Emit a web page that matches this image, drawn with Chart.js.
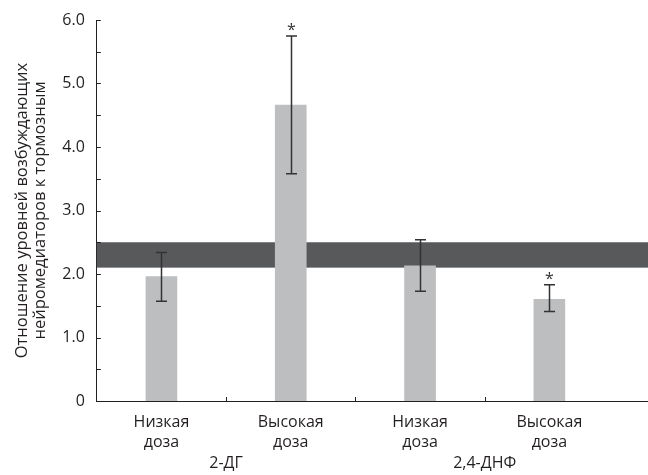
<!DOCTYPE html>
<html>
<head>
<meta charset="utf-8">
<script src="https://cdn.jsdelivr.net/npm/chart.js@4.4.1/dist/chart.umd.min.js"></script>
<style>
  html, body { margin: 0; padding: 0; background: #fff; }
  #wrap { width: 648px; height: 475px; }
</style>
</head>
<body>
<div id="wrap"><canvas id="chart"></canvas></div>
<script>
// doses and treatment groups
const doseLabels = [["Низкая", "доза"], ["Высокая", "доза"], ["Низкая", "доза"], ["Высокая", "доза"]];
const groupLabels = ["2-ДГ", "2,4-ДНФ"];

// ratio values with error range
const ratio = [1.96, 4.66, 2.13, 1.60];
const errLow = [1.57, 3.58, 1.73, 1.41];
const errHigh = [2.34, 5.75, 2.54, 1.83];
const significant = [false, true, false, true];

// reference band (normal range)
const bandLow = 2.1;
const bandHigh = 2.5;

const ink = "#231f20";
const font = "'Open Sans', sans-serif";

// dark band behind the bars, stretched to the right edge
const bandPlugin = {
  id: "band",
  beforeDatasetsDraw(chart) {
    const { ctx, chartArea, scales } = chart;
    const y1 = scales.y.getPixelForValue(bandHigh);
    const y2 = scales.y.getPixelForValue(bandLow);
    ctx.save();
    ctx.fillStyle = "#58595b";
    ctx.fillRect(chartArea.left, y1, chart.width - chartArea.left, y2 - y1);
    ctx.restore();
  }
};

// error bars, asterisks, inward ticks, extended baseline, group names
const extrasPlugin = {
  id: "extras",
  afterDatasetsDraw(chart) {
    const { ctx, chartArea, scales } = chart;
    const meta = chart.getDatasetMeta(0);
    ctx.save();
    ctx.strokeStyle = "#333333";
    ctx.lineWidth = 1.5;
    meta.data.forEach((bar, i) => {
      const x = Math.round(bar.x) + 0.5;
      const yt = scales.y.getPixelForValue(errHigh[i]);
      const yb = scales.y.getPixelForValue(errLow[i]);
      ctx.beginPath();
      ctx.moveTo(x, yt); ctx.lineTo(x, yb);
      ctx.moveTo(x - 5.5, yt); ctx.lineTo(x + 5.5, yt);
      ctx.moveTo(x - 5.5, yb); ctx.lineTo(x + 5.5, yb);
      ctx.stroke();
      if (significant[i]) {
        ctx.fillStyle = "#333333";
        ctx.font = "16px " + font;
        ctx.textAlign = "center";
        ctx.textBaseline = "alphabetic";
        ctx.fillText("*", x, yt - 1);
      }
    });

    ctx.strokeStyle = ink;
    ctx.lineWidth = 1;
    const bottom = scales.y.getPixelForValue(0);
    // baseline continues past the last category
    ctx.beginPath();
    ctx.moveTo(chartArea.left, Math.round(bottom) + 0.5);
    ctx.lineTo(chart.width, Math.round(bottom) + 0.5);
    ctx.stroke();
    // y ticks every 0.5, pointing inward
    ctx.beginPath();
    for (let v = 0.5; v <= 6; v += 0.5) {
      const y = Math.round(scales.y.getPixelForValue(v)) + 0.5;
      ctx.moveTo(chartArea.left, y);
      ctx.lineTo(chartArea.left + 4, y);
    }
    // x ticks between categories
    for (let i = 0; i < doseLabels.length - 1; i++) {
      const x = Math.round((scales.x.getPixelForValue(i) + scales.x.getPixelForValue(i + 1)) / 2) + 0.5;
      ctx.moveTo(x, bottom);
      ctx.lineTo(x, bottom - 4);
    }
    ctx.stroke();

    // group names under each pair of doses
    ctx.fillStyle = ink;
    ctx.font = "16px " + font;
    ctx.textAlign = "center";
    ctx.textBaseline = "middle";
    groupLabels.forEach((g, k) => {
      const x = (scales.x.getPixelForValue(2 * k) + scales.x.getPixelForValue(2 * k + 1)) / 2;
      ctx.fillText(g, x, bottom + 62);
    });
    ctx.restore();
  }
};

new Chart(document.getElementById("chart"), {
  type: "bar",
  data: {
    labels: doseLabels,
    datasets: [{
      data: ratio,
      backgroundColor: "#bcbec0",
      barThickness: 31
    }]
  },
  plugins: [bandPlugin, extrasPlugin],
  options: {
    responsive: true,
    maintainAspectRatio: false,
    animation: false,
    layout: { padding: { top: 20, right: 34, left: 13, bottom: 0 } },
    plugins: {
      legend: { display: false },
      tooltip: { enabled: false }
    },
    scales: {
      x: {
        grid: { display: false },
        border: { color: ink },
        afterFit: (scale) => { scale.height = 74; },
        ticks: { color: ink, font: { family: font, size: 16, lineHeight: 1.25 }, padding: 3, maxRotation: 0 }
      },
      y: {
        min: 0,
        max: 6,
        grid: { display: false },
        border: { color: ink },
        ticks: {
          stepSize: 1,
          color: ink,
          padding: 4,
          font: { family: font, size: 16 },
          callback: (v) => (v === 0 ? "0" : v.toFixed(1))
        },
        title: {
          display: true,
          text: ["Отношение уровней возбуждающих", "нейромедиаторов к тормозным"],
          color: ink,
          font: { family: font, size: 16.5, lineHeight: 1.1 },
          padding: { top: 0, bottom: 9 }
        }
      }
    }
  }
});
</script>
</body>
</html>
